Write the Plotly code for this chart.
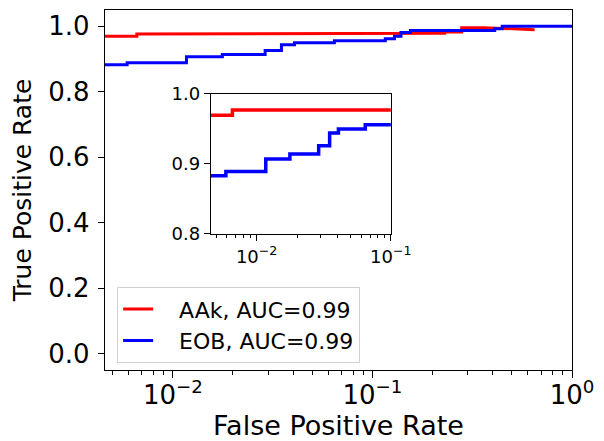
import plotly.graph_objects as go

# ---- data ----
aak_fpr = [0.004, 0.0066, 0.125, 0.23, 0.28, 0.36]
aak_tpr = [0.9695, 0.977, 0.979, 0.983, 0.996, 0.996]
aak_tail_fpr = [0.65]
aak_tail_tpr = [0.990]

eob_fpr = [0.004, 0.0059, 0.0117, 0.0177, 0.029, 0.035, 0.0407, 0.0645,
           0.116, 0.129, 0.139, 0.155, 0.41, 0.447, 1.0]
eob_tpr = [0.883, 0.889, 0.907, 0.914, 0.926, 0.944, 0.950, 0.956,
           0.962, 0.970, 0.981, 0.987, 0.993, 1.0, 1.0]

labels = ["AAk, AUC=0.99", "EOB, AUC=0.99"]
colors = ["red", "blue"]

x_ticks = [0.01, 0.1, 1]
x_ticktext = ["10<sup>−2</sup>", "10<sup>−1</sup>", "10<sup>0</sup>"]
y_ticks = [0.0, 0.2, 0.4, 0.6, 0.8, 1.0]
inset_y_ticks = [0.8, 0.9, 1.0]


def steps(xs, ys):
    sx, sy = [xs[0]], [ys[0]]
    for i in range(1, len(xs)):
        sx += [xs[i], xs[i]]
        sy += [ys[i - 1], ys[i]]
    return sx, sy


ax, ay = steps(aak_fpr, aak_tpr)
ax += aak_tail_fpr
ay += aak_tail_tpr
bx, by = steps(eob_fpr, eob_tpr)

FONT = "DejaVu Sans"
PAD = "\u00a0\u00a0\u00a0"
fig = go.Figure()
for xs, ys, name, c in [(ax, ay, labels[0], colors[0]), (bx, by, labels[1], colors[1])]:
    fig.add_trace(go.Scatter(x=xs, y=ys, mode="lines", name=PAD + name,
                             line=dict(color=c, width=3), xaxis="x", yaxis="y"))
for xs, ys, c in [(ax, ay, colors[0]), (bx, by, colors[1])]:
    fig.add_trace(go.Scatter(x=xs, y=ys, mode="lines", showlegend=False,
                             line=dict(color=c, width=3.5), xaxis="x2", yaxis="y2"))

axis_common = dict(showline=True, linecolor="black", linewidth=1.3, mirror=True,
                   ticks="outside", tickcolor="black", showgrid=False, zeroline=False,
                   automargin=False)

# page body adds an 8px offset, so the figure is 8px smaller and margins shifted
fig.update_layout(
    width=596, height=433,
    margin=dict(l=97, r=32, t=2, b=71),
    paper_bgcolor="white", plot_bgcolor="white",
    font=dict(family=FONT, color="black", size=25),
    xaxis=dict(type="log", range=[-2.34, 0], tickmode="array", tickvals=x_ticks,
               ticktext=x_ticktext, ticklen=7, tickwidth=1.2, ticklabelstandoff=-5,
               minor=dict(ticks="outside", ticklen=4, tickcolor="black", dtick="D1", showgrid=False),
               title=dict(text="False Positive Rate", font=dict(size=27), standoff=3),
               tickfont=dict(size=26), **axis_common),
    yaxis=dict(range=[-0.05, 1.05], tickmode="array", tickvals=y_ticks, tickformat=".1f",
               ticklen=6, tickwidth=1.2, ticklabelstandoff=3,
               title=dict(text="True Positive Rate", font=dict(size=25), standoff=12),
               tickfont=dict(size=26), **axis_common),
    xaxis2=dict(type="log", range=[-2.34, -1], domain=[0.227, 0.612], anchor="y2",
                tickmode="array", tickvals=x_ticks[:2], ticktext=x_ticktext[:2],
                ticklen=6, tickwidth=1.2,
                minor=dict(ticks="outside", ticklen=3, tickcolor="black", dtick="D1", showgrid=False),
                tickfont=dict(size=18), **axis_common),
    yaxis2=dict(range=[0.8, 1.0], domain=[0.378, 0.767], anchor="x2",
                tickmode="array", tickvals=inset_y_ticks, tickformat=".1f",
                ticklen=6, tickwidth=1.2, tickfont=dict(size=18), **axis_common),
    legend=dict(x=0.026, y=0.23, xanchor="left", yanchor="top",
                bgcolor="white", bordercolor="#d0d0d0", borderwidth=1,
                font=dict(size=22, family=FONT), tracegroupgap=0),
    showlegend=True,
)

fig.write_html("out.html")
